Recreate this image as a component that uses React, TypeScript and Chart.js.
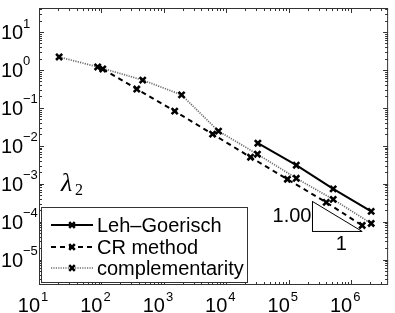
import React, { useEffect, useRef } from 'react';
import { Chart, registerables } from 'chart.js';

Chart.register(...registerables);

// ---- data ----
const seriesNames = ['Leh–Goerisch', 'CR method', 'complementarity'];
const lehX = [32000, 132000, 515000, 2090000];
const lehY = [0.0117, 0.00307, 0.00073, 0.000186];
const crX = [105, 368, 1490, 6030, 24400, 95000, 398000, 1500000];
const crY = [1.06, 0.314, 0.082, 0.0203, 0.005, 0.00131, 0.000322, 0.000079];
const compX = [21, 87, 458, 1920, 7500, 31500, 132000, 515000, 2090000];
const compY = [2.2, 1.2, 0.54, 0.22, 0.0243, 0.006, 0.00139, 0.000386, 0.0000895];

// slope triangle (data coordinates)
const triX = [240000, 240000, 1500000, 240000];
const triY = [0.00034, 0.000055, 0.000055, 0.00034];
const slopeRiseLabel = '1.00';
const slopeRunLabel = '1';

const curveSymbol = 'λ';
const curveSub = '2';

const xTickValues = [1e1, 1e2, 1e3, 1e4, 1e5, 1e6];
const xTickExp = ['1', '2', '3', '4', '5', '6'];
const yTickValues = [1e1, 1e0, 1e-1, 1e-2, 1e-3, 1e-4, 1e-5];
const yTickExp = ['1', '0', '−1', '−2', '−3', '−4', '−5'];

const xMin = 10;
const xMax = 3.9e6;
const yMin = 2.13e-6;
const yMax = 43;

const toPts = (xs: number[], ys: number[]) => xs.map((x, i) => ({ x, y: ys[i] }));

const SANS = '"Liberation Sans", Arial, Helvetica, sans-serif';
const SERIF = '"Liberation Serif", "DejaVu Serif", serif';

const lineStyles = [
  { color: '#000', width: 2, dash: [] as number[] },
  { color: '#000', width: 2, dash: [5, 4] },
  { color: '#6e6e6e', width: 1.7, dash: [1.2, 1.2] },
];

function drawX(ctx: CanvasRenderingContext2D, x: number, y: number, r: number) {
  ctx.save();
  ctx.setLineDash([]);
  ctx.strokeStyle = '#000';
  ctx.lineWidth = 2.6;
  ctx.beginPath();
  ctx.moveTo(x - r, y - r);
  ctx.lineTo(x + r, y + r);
  ctx.moveTo(x - r, y + r);
  ctx.lineTo(x + r, y - r);
  ctx.stroke();
  ctx.restore();
}

const matlabPlugin = {
  id: 'matlabAxes',
  afterDraw(chart: any) {
    const ctx: CanvasRenderingContext2D = chart.ctx;
    const { left, right, top, bottom } = chart.chartArea;
    const xs = chart.scales.x;
    const ys = chart.scales.y;
    ctx.save();

    // box
    ctx.strokeStyle = '#333';
    ctx.lineWidth = 1;
    ctx.setLineDash([]);
    ctx.strokeRect(left + 0.5, top + 0.5, right - left - 1, bottom - top - 1);

    // ticks
    const major = 5;
    const minor = 3;
    ctx.beginPath();
    for (let d = 1; d <= 7; d++) {
      for (let m = 1; m <= 9; m++) {
        const v = m * Math.pow(10, d);
        if (v < xMin || v > xMax) continue;
        const px = Math.round(xs.getPixelForValue(v)) + 0.5;
        const len = m === 1 ? major : minor;
        ctx.moveTo(px, bottom);
        ctx.lineTo(px, bottom - len);
        ctx.moveTo(px, top);
        ctx.lineTo(px, top + len);
      }
    }
    for (let d = -6; d <= 1; d++) {
      for (let m = 1; m <= 9; m++) {
        const v = m * Math.pow(10, d);
        if (v < yMin || v > yMax) continue;
        const py = Math.round(ys.getPixelForValue(v)) + 0.5;
        const len = m === 1 ? major : minor;
        ctx.moveTo(left, py);
        ctx.lineTo(left + len, py);
        ctx.moveTo(right, py);
        ctx.lineTo(right - len, py);
      }
    }
    ctx.stroke();

    // tick labels
    ctx.fillStyle = '#000';
    xTickValues.forEach((v, i) => {
      const px = xs.getPixelForValue(v);
      ctx.font = `20px ${SANS}`;
      ctx.textAlign = 'right';
      ctx.textBaseline = 'alphabetic';
      ctx.fillText('10', px + 1, 312);
      ctx.font = `13px ${SANS}`;
      ctx.textAlign = 'left';
      ctx.fillText(xTickExp[i], px + 2, 301);
    });
    yTickValues.forEach((v, i) => {
      const py = ys.getPixelForValue(v);
      ctx.font = `20px ${SANS}`;
      ctx.textAlign = 'left';
      ctx.textBaseline = 'alphabetic';
      ctx.fillText('10', 1, py + 7);
      ctx.font = `13px ${SANS}`;
      ctx.fillText(yTickExp[i], 23, py - 4.5);
    });

    // slope triangle labels
    const tx0 = xs.getPixelForValue(triX[0]);
    const tx1 = xs.getPixelForValue(triX[2]);
    const ty0 = ys.getPixelForValue(triY[0]);
    const ty1 = ys.getPixelForValue(triY[1]);
    ctx.font = `20px ${SANS}`;
    ctx.textAlign = 'right';
    ctx.textBaseline = 'middle';
    ctx.fillText(slopeRiseLabel, tx0 - 1, (ty0 + ty1) / 2);
    ctx.textAlign = 'center';
    ctx.fillText(slopeRunLabel, (tx0 + tx1) / 2 + 4, ty1 + 13);

    // lambda_2
    ctx.textAlign = 'left';
    ctx.textBaseline = 'alphabetic';
    ctx.font = `italic 26px ${SERIF}`;
    ctx.fillText(curveSymbol, left + 22, 191);
    ctx.font = `16px ${SERIF}`;
    ctx.fillText(curveSub, left + 36, 195);

    // legend
    const lx = 41.5, ly = 207.5, lw = 206, lh = 75;
    ctx.fillStyle = '#fff';
    ctx.fillRect(lx, ly, lw, lh);
    ctx.strokeStyle = '#333';
    ctx.lineWidth = 1;
    ctx.setLineDash([]);
    ctx.strokeRect(lx, ly, lw, lh);
    const rows = [225, 247, 268];
    seriesNames.forEach((name, i) => {
      const st = lineStyles[i];
      const y = rows[i];
      ctx.save();
      ctx.strokeStyle = st.color;
      ctx.lineWidth = st.width;
      ctx.setLineDash(st.dash);
      ctx.beginPath();
      ctx.moveTo(51, y);
      ctx.lineTo(93, y);
      ctx.stroke();
      ctx.restore();
      drawX(ctx, 72, y, 2.8);
      ctx.fillStyle = '#000';
      ctx.font = `20px ${SANS}`;
      ctx.textAlign = 'left';
      ctx.textBaseline = 'middle';
      ctx.fillText(name, 97, y + 1);
    });

    ctx.restore();
  },
};

export default function App() {
  const ref = useRef<HTMLCanvasElement | null>(null);
  useEffect(() => {
    document.body.style.margin = '0';
    const canvas = ref.current;
    if (!canvas) return;
    const mk = (i: number) => ({
      borderColor: lineStyles[i].color,
      borderWidth: lineStyles[i].width,
      borderDash: lineStyles[i].dash,
      pointStyle: 'crossRot' as const,
      pointRadius: 4.3,
      pointBorderColor: '#000',
      pointBorderWidth: 2.6,
      pointBackgroundColor: '#000',
      fill: false,
      tension: 0,
    });
    const chart = new Chart(canvas, {
      type: 'line',
      data: {
        datasets: [
          { label: seriesNames[0], data: toPts(lehX, lehY), ...mk(0) },
          { label: seriesNames[1], data: toPts(crX, crY), ...mk(1) },
          { label: seriesNames[2], data: toPts(compX, compY), ...mk(2) },
          {
            label: 'slope',
            data: toPts(triX, triY),
            borderColor: '#000',
            borderWidth: 1,
            pointRadius: 0,
            fill: false,
            tension: 0,
          },
        ],
      },
      options: {
        responsive: false,
        maintainAspectRatio: false,
        devicePixelRatio: 1,
        animation: false,
        layout: { padding: { left: 39, right: 6, top: 8, bottom: 28 } },
        plugins: { legend: { display: false }, tooltip: { enabled: false } },
        scales: {
          x: { type: 'logarithmic', min: xMin, max: xMax, display: false },
          y: { type: 'logarithmic', min: yMin, max: yMax, display: false },
        },
      },
      plugins: [matlabPlugin],
    });
    return () => chart.destroy();
  }, []);
  return (
    <div style={{ width: 395, height: 313, background: '#fff' }}>
      <canvas ref={ref} width={395} height={313} style={{ display: 'block' }} />
    </div>
  );
}
